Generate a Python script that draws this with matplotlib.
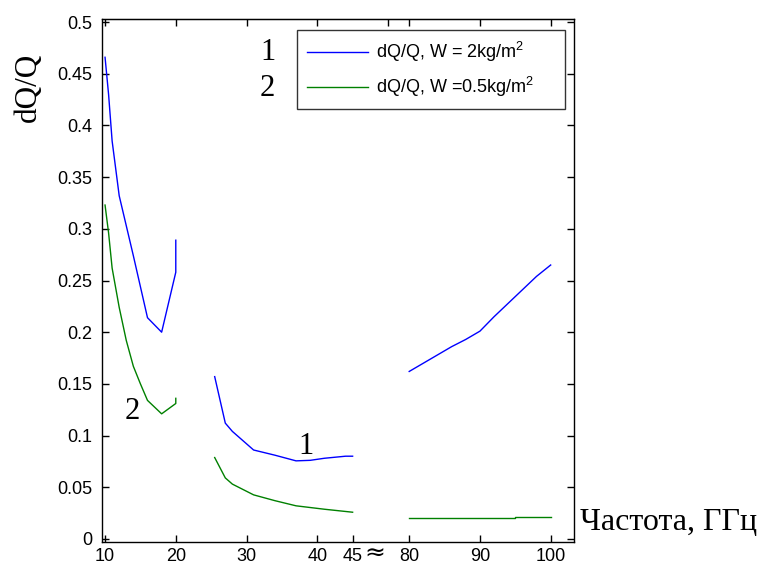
import numpy as np
import matplotlib
matplotlib.use("Agg")
from matplotlib import pyplot as plt

plt.rcParams['font.family'] = ['Liberation Sans', 'DejaVu Sans']
plt.rcParams['mathtext.default'] = 'regular'

# curve 1, W = 2 kg/m^2 (three frequency bands)
f1_a = [10, 10.5, 11, 12, 13, 14, 15, 16, 18, 20, 20]
q1_a = [0.466, 0.43, 0.385, 0.332, 0.303, 0.274, 0.244, 0.214, 0.200, 0.258, 0.289]
f1_b = [25.5, 27, 28, 31, 34, 37, 39, 41, 44, 45]
q1_b = [0.157, 0.112, 0.104, 0.086, 0.081, 0.0755, 0.076, 0.078, 0.080, 0.080]
f1_c = [80, 82, 84, 86, 88, 90, 92, 94, 96, 98, 100]
q1_c = [0.162, 0.170, 0.178, 0.186, 0.193, 0.201, 0.215, 0.228, 0.241, 0.254, 0.265]

# curve 2, W = 0.5 kg/m^2
f2_a = [10, 10.5, 11, 12, 13, 14, 15, 16, 18, 20, 20]
q2_a = [0.323, 0.296, 0.262, 0.224, 0.192, 0.167, 0.150, 0.134, 0.121, 0.131, 0.136]
f2_b = [25.5, 27, 28, 31, 34, 37, 41, 45]
q2_b = [0.0787, 0.059, 0.053, 0.0426, 0.037, 0.032, 0.0287, 0.0258]
f2_c = [80, 95, 95, 100]
q2_c = [0.020, 0.020, 0.0215, 0.0215]

tick_freqs = [10, 20, 30, 40, 45, 80, 90, 100]
top_freqs = [10, 20, 30, 40, 50, 80, 90, 100]


def pos(f):
    # broken axis: 45..80 GHz squeezed into 8 units
    f = np.asarray(f, dtype=float)
    return np.where(f <= 50, f, f - 80 + 53)


fig = plt.figure(figsize=(7.62, 5.68), dpi=100)
ax = fig.add_axes([0.1335, 0.0458, 0.6198, 0.9207])

blue = '#0000ff'
green = '#008000'
ax.plot(pos(f1_a), q1_a, color=blue, lw=1.0, label=r'dQ/Q, W = 2kg/m$^2$')
ax.plot(pos(f1_b), q1_b, color=blue, lw=1.0)
ax.plot(pos(f1_c), q1_c, color=blue, lw=1.0)
ax.plot(pos(f2_a), q2_a, color=green, lw=1.0, label=r'dQ/Q, W =0.5kg/m$^2$')
ax.plot(pos(f2_b), q2_b, color=green, lw=1.0)
ax.plot(pos(f2_c), q2_c, color=green, lw=1.0)

ax.set_xlim(9.53, 76.3)
ax.set_ylim(-0.003, 0.503)
ax.set_xticks(pos(tick_freqs))
ax.set_xticklabels([str(f) for f in tick_freqs])
ax.set_yticks(np.arange(0, 0.51, 0.05))
ax.set_yticklabels(['0', '0.05', '0.1', '0.15', '0.2', '0.25', '0.3', '0.35',
                    '0.4', '0.45', '0.5'])
ax.tick_params(direction='in', length=5, width=1, labelsize=13,
               right=True, top=False)
ax.tick_params(axis='y', pad=7)
ax.tick_params(axis='x', pad=4)
secax = ax.secondary_xaxis('top')
secax.set_xticks(pos(top_freqs))
secax.tick_params(direction='in', length=5, width=1, labeltop=False)
for s in ax.spines.values():
    s.set_linewidth(1.0)

ax.text(48.2, -0.022, '≈', fontsize=18, ha='center', va='center',
        family='DejaVu Sans', transform=ax.get_xaxis_transform())

serif = 'Liberation Serif'
fig.text(28 / 762, 1 - 87 / 568, 'dQ/Q', family=serif, fontsize=22.5,
         rotation=90, ha='center', va='center')
fig.text(0.761, 0.080, 'Частота, ГГц', family=serif, fontsize=23,
         ha='left', va='center')

ax.text(pos(33.0), 0.471, '1', family=serif, fontsize=22, ha='center', va='center')
ax.text(pos(33.0), 0.436, '2', family=serif, fontsize=22, ha='center', va='center')
ax.text(pos(38.4), 0.089, '1', family=serif, fontsize=22, ha='center', va='center')
ax.text(pos(13.9), 0.123, '2', family=serif, fontsize=22, ha='center', va='center')

leg = ax.legend(loc='upper left', bbox_to_anchor=(0.4135, 0.80, 0.5675, 0.179),
                mode='expand', borderaxespad=0, fontsize=13,
                frameon=True, fancybox=False, edgecolor='black',
                handlelength=3.4, handletextpad=0.4, borderpad=0.55,
                labelspacing=0.6)
leg.get_frame().set_linewidth(1.0)

fig.savefig('out.png', dpi=100)
